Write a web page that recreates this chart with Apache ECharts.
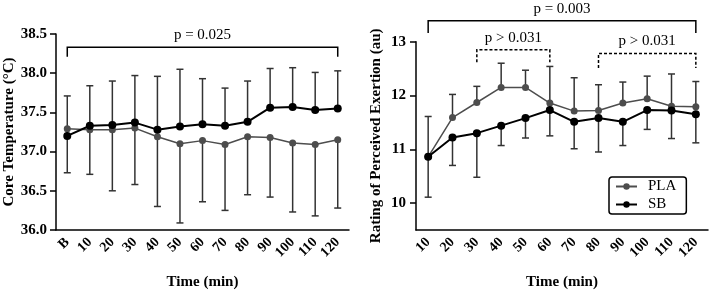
<!DOCTYPE html>
<html>
<head>
<meta charset="utf-8">
<script src="https://cdn.jsdelivr.net/npm/echarts@6/dist/echarts.min.js"></script>
<style>
  html, body { margin: 0; padding: 0; background: #fff; }
  #chart { width: 709px; height: 295px; }
</style>
</head>
<body>
<div id="chart"></div>
<script>
// left panel: core temperature
const tempTimes = ["B", "10", "20", "30", "40", "50", "60", "70", "80", "90", "100", "110", "120"]
const tempSB = [37.20, 37.33, 37.34, 37.37, 37.28, 37.32, 37.35, 37.33, 37.38, 37.56, 37.57, 37.53, 37.55]
const tempSBUpper = [37.71, 37.84, 37.90, 37.97, 37.96, 38.05, 37.93, 37.81, 37.90, 38.06, 38.07, 38.01, 38.03]
const tempPLA = [37.29, 37.28, 37.28, 37.30, 37.19, 37.10, 37.14, 37.09, 37.19, 37.18, 37.11, 37.09, 37.15]
const tempPLALower = [36.73, 36.71, 36.50, 36.58, 36.30, 36.09, 36.36, 36.25, 36.45, 36.42, 36.23, 36.18, 36.28]

// right panel: RPE
const rpeTimes = ["10", "20", "30", "40", "50", "60", "70", "80", "90", "100", "110", "120"]
const rpePLA = [10.86, 11.59, 11.87, 12.15, 12.15, 11.86, 11.71, 11.72, 11.86, 11.94, 11.80, 11.79]
const rpePLAUpper = [11.61, 12.02, 12.17, 12.60, 12.47, 12.54, 12.33, 12.20, 12.25, 12.36, 12.40, 12.26]
const rpeSB = [10.86, 11.22, 11.30, 11.44, 11.58, 11.73, 11.51, 11.58, 11.51, 11.73, 11.72, 11.65]
const rpeSBLower = [10.11, 10.70, 10.48, 11.07, 11.21, 11.25, 11.01, 10.95, 11.07, 11.37, 11.20, 11.12]

const rpeTicks = [10, 11, 12, 13]

// significance brackets, in data units
const brackets = [
  { axis: 0, from: "B", to: "120", y: 38.33, drop: 38.21, label: "p = 0.025", dashed: false },
  { axis: 1, from: "10", to: "120", y: 13.39, drop: 13.16, label: "p = 0.003", dashed: false },
  { axis: 1, from: "30", to: "60", y: 12.85, drop: 12.62, label: "p > 0.031", dashed: true },
  { axis: 1, from: "80", to: "120", y: 12.78, drop: 12.51, label: "p > 0.031", dashed: true },
]

const FONT = "Liberation Serif"
const BLACK = "#000"
const GREY = "#4d4d4d"
const BAR = "#333"

const chart = echarts.init(document.getElementById("chart"))

function catAxis(idx, data) {
  return {
    type: "category",
    gridIndex: idx,
    data: data,
    boundaryGap: true,
    name: "Time (min)",
    nameLocation: "middle",
    nameGap: 45,
    nameTextStyle: { fontFamily: FONT, fontWeight: "bold", fontSize: 15, color: BLACK },
    axisLine: { lineStyle: { color: BLACK, width: 1.5 } },
    axisTick: { alignWithLabel: true, length: 7, lineStyle: { color: BLACK, width: 1.5 } },
    axisLabel: { rotate: 45, margin: 10, interval: 0, fontFamily: FONT, fontWeight: "bold", fontSize: 14, color: BLACK },
  }
}

function errorBars(idx, means, bounds, color) {
  return {
    type: "custom",
    xAxisIndex: idx,
    yAxisIndex: idx,
    z: 1,
    silent: true,
    data: means.map((m, i) => [i, m, bounds[i]]),
    renderItem: function (params, api) {
      const x = api.value(0)
      const a = api.coord([x, api.value(1)])
      const b = api.coord([x, api.value(2)])
      const style = { stroke: color, lineWidth: 1.5 }
      return {
        type: "group",
        children: [
          { type: "line", shape: { x1: a[0], y1: a[1], x2: b[0], y2: b[1] }, style: style },
          { type: "line", shape: { x1: b[0] - 3.5, y1: b[1], x2: b[0] + 3.5, y2: b[1] }, style: style },
        ],
      }
    },
  }
}

function lineSeries(idx, name, data, color, width, size) {
  return {
    name: name,
    type: "line",
    xAxisIndex: idx,
    yAxisIndex: idx,
    data: data,
    z: 3,
    symbol: "circle",
    symbolSize: size,
    lineStyle: { color: color, width: width },
    itemStyle: { color: color },
    emphasis: { disabled: true },
  }
}

const option = {
  backgroundColor: "#fff",
  animation: false,
  textStyle: { fontFamily: FONT },
  grid: [
    { left: 56, right: 360, top: 34, bottom: 65 },
    { left: 416, right: 1, top: 41.7, bottom: 58.3 },
  ],
  xAxis: [catAxis(0, tempTimes), catAxis(1, rpeTimes)],
  yAxis: [
    {
      type: "value",
      gridIndex: 0,
      min: 36,
      max: 38.5,
      interval: 0.5,
      name: "Core Temperature (°C)",
      nameLocation: "middle",
      nameGap: 39,
      nameTextStyle: { fontFamily: FONT, fontWeight: "bold", fontSize: 15, color: BLACK },
      axisLine: { show: true, lineStyle: { color: BLACK, width: 1.5 } },
      axisTick: { show: true, length: 6, lineStyle: { color: BLACK, width: 1.5 } },
      axisLabel: { margin: 9, fontFamily: FONT, fontWeight: "bold", fontSize: 15, color: BLACK, formatter: v => v.toFixed(1) },
      splitLine: { show: false },
    },
    {
      type: "value",
      gridIndex: 1,
      min: 9.5,
      max: 13,
      name: "Rating of Perceived Exertion (au)",
      nameLocation: "middle",
      nameGap: 32,
      nameTextStyle: { fontFamily: FONT, fontWeight: "bold", fontSize: 15, color: BLACK },
      axisLine: { show: true, lineStyle: { color: BLACK, width: 1.5 } },
      axisTick: { show: true, length: 6, customValues: rpeTicks, lineStyle: { color: BLACK, width: 1.5 } },
      axisLabel: { margin: 10, customValues: rpeTicks, fontFamily: FONT, fontWeight: "bold", fontSize: 15, color: BLACK },
      splitLine: { show: false },
    },
  ],
  legend: {
    data: ["PLA", "SB"],
    orient: "vertical",
    left: 609,
    top: 177,
    itemWidth: 21,
    itemHeight: 8,
    itemGap: 3,
    padding: [2, 10, 2, 6],
    borderColor: BLACK,
    borderWidth: 1.5,
    borderRadius: 3,
    textStyle: { fontFamily: FONT, fontSize: 15, color: BLACK, padding: [0, 0, 0, 6] },
  },
  series: [
    errorBars(0, tempSB, tempSBUpper, BAR),
    errorBars(0, tempPLA, tempPLALower, BAR),
    lineSeries(0, "PLA", tempPLA, GREY, 1.5, 7),
    lineSeries(0, "SB", tempSB, BLACK, 2, 8),
    errorBars(1, rpePLA, rpePLAUpper, BAR),
    errorBars(1, rpeSB, rpeSBLower, BAR),
    lineSeries(1, "PLA", rpePLA, GREY, 1.5, 7),
    lineSeries(1, "SB", rpeSB, BLACK, 2, 8),
  ],
}

chart.setOption(option)

// draw brackets from data coordinates
const elements = []
brackets.forEach(br => {
  const finder = { xAxisIndex: br.axis, yAxisIndex: br.axis }
  const a = chart.convertToPixel(finder, [br.from, br.y])
  const b = chart.convertToPixel(finder, [br.to, br.y])
  const d = chart.convertToPixel(finder, [br.to, br.drop])
  const style = { stroke: BLACK, lineWidth: 1.5, fill: null, lineDash: br.dashed ? [3, 2] : null }
  elements.push({
    type: "polyline",
    shape: { points: [[a[0], d[1]], [a[0], a[1]], [b[0], b[1]], [b[0], d[1]]] },
    style: style,
    silent: true,
  })
  elements.push({
    type: "text",
    x: (a[0] + b[0]) / 2,
    y: a[1] - 12,
    style: { text: br.label, fontFamily: FONT, fontSize: 15, fill: BLACK, align: "center", verticalAlign: "middle" },
    silent: true,
  })
})
chart.setOption({ graphic: { elements: elements } })

window.addEventListener("resize", () => chart.resize())
</script>
</body>
</html>
